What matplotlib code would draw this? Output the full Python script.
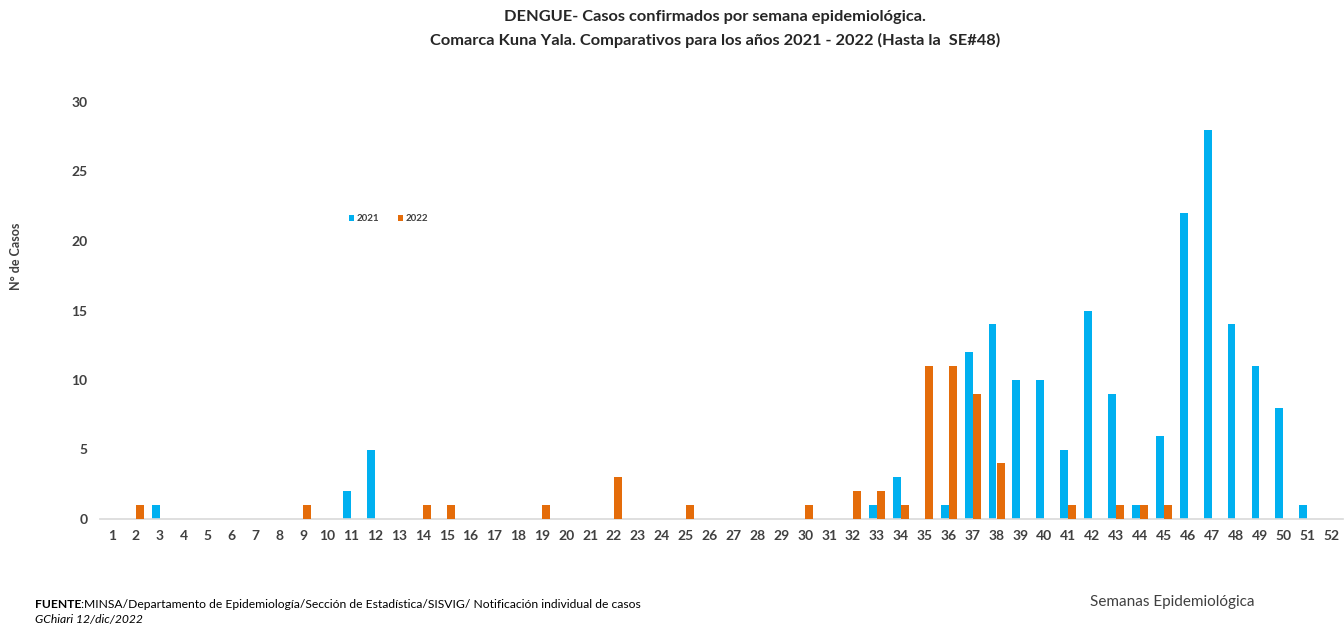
import numpy as np
import matplotlib
matplotlib.use("Agg")
import matplotlib.pyplot as plt

plt.rcParams['font.family'] = ['Lato', 'DejaVu Sans']

# semanas epidemiologicas 1..52
semanas = list(range(1, 53))

# casos por semana (solo semanas con casos)
casos_2021 = {3: 1, 11: 2, 12: 5, 33: 1, 34: 3, 36: 1, 37: 12, 38: 14, 39: 10,
              40: 10, 41: 5, 42: 15, 43: 9, 44: 1, 45: 6, 46: 22, 47: 28,
              48: 14, 49: 11, 50: 8, 51: 1}
casos_2022 = {2: 1, 9: 1, 14: 1, 15: 1, 19: 1, 22: 3, 25: 1, 30: 1, 32: 2,
              33: 2, 34: 1, 35: 11, 36: 11, 37: 9, 38: 4, 41: 1, 43: 1,
              44: 1, 45: 1}

y2021 = np.array([casos_2021.get(s, 0) for s in semanas])
y2022 = np.array([casos_2022.get(s, 0) for s in semanas])

azul = '#00B0F0'
naranja = '#E46C0A'
gris = '#404040'

fig = plt.figure(figsize=(13.44, 6.25), dpi=100)
ax = fig.add_axes([0.0744, 0.1696, 0.925, 0.6672])

x = np.array(semanas)
w = 0.33
m21 = y2021 > 0
m22 = y2022 > 0
ax.bar(x[m21] - 0.17, y2021[m21], width=w, color=azul, label='2021', zorder=2)
ax.bar(x[m22] + 0.17, y2022[m22], width=w, color=naranja, label='2022', zorder=3)

ax.set_xlim(0.5, 52.5)
ax.set_ylim(0, 30)
ax.set_yticks(range(0, 31, 5))
ax.set_xticks(semanas)
ax.tick_params(axis='both', length=0, labelsize=10, labelcolor=gris)
ax.tick_params(axis='y', pad=9)
ax.tick_params(axis='x', pad=8)
for lab in ax.get_xticklabels() + ax.get_yticklabels():
    lab.set_fontweight('bold')

for s in ['top', 'right', 'left']:
    ax.spines[s].set_visible(False)
ax.spines['bottom'].set_color('#D9D9D9')
ax.spines['bottom'].set_linewidth(1.2)

leg = ax.legend(loc='center left', bbox_to_anchor=(0.2, 0.72), ncol=2, frameon=False,
                handlelength=0.6, handleheight=0.6, handletextpad=0.2,
                columnspacing=1.9, borderpad=0, borderaxespad=0,
                prop={'size': 7, 'weight': 'bold'})
for t in leg.get_texts():
    t.set_color(gris)

fig.text(0.532, 0.973, 'DENGUE- Casos confirmados por semana epidemiológica.',
         ha='center', va='center', fontsize=11.8, fontweight='bold', color='#262626')
fig.text(0.532, 0.936, 'Comarca Kuna Yala. Comparativos para los años 2021 - 2022 (Hasta la  SE#48)',
         ha='center', va='center', fontsize=11.8, fontweight='bold', color='#262626')

fig.text(0.012, 0.59, 'N° de Casos', rotation=90, ha='center', va='center',
         fontsize=9, fontweight='bold', color=gris)

t1 = fig.text(0.026, 0.027, 'FUENTE', ha='left', va='baseline', fontsize=8.7,
              fontweight='bold', color='black')
ax.annotate(':MINSA/Departamento de Epidemiología/Sección de Estadística/SISVIG/ Notificación individual de casos',
            xy=(1, 0), xycoords=t1, ha='left', va='bottom', fontsize=8.7,
            color='black', annotation_clip=False)
fig.text(0.026, 0.003, 'GChiari 12/dic/2022', ha='left', va='baseline',
         fontsize=8.7, style='italic', color='black')

fig.text(0.811, 0.03, 'Semanas Epidemiológica', ha='left', va='baseline',
         fontsize=11, color=gris)

fig.savefig('out.png', dpi=100)
